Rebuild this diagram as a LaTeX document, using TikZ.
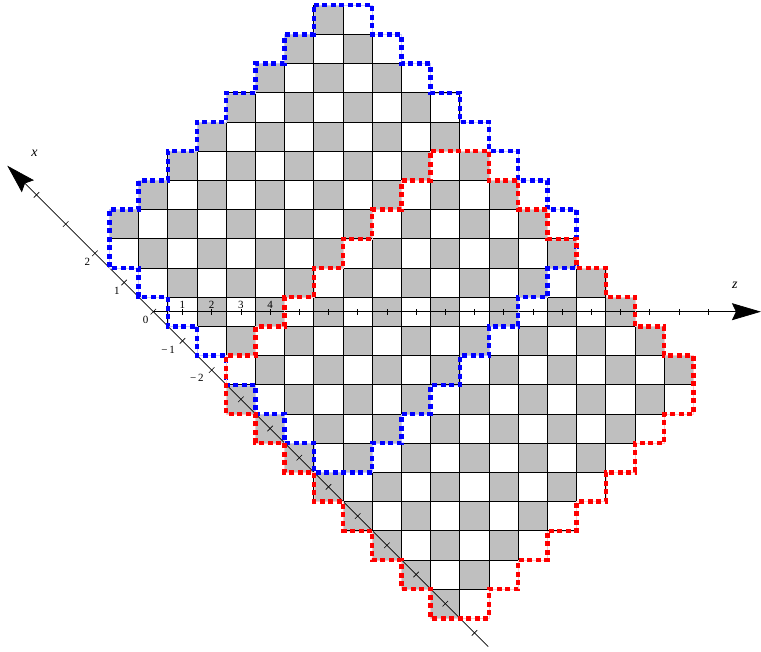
\documentclass[tikz,border=0pt]{standalone}
\usepackage{fontspec}
\setmainfont{Liberation Serif}
\usetikzlibrary{arrows.meta}
\tikzset{
  cell/.style={draw=black, line width=0.8pt},
  graycell/.style={cell, fill=lightgray},
  whitecell/.style={cell, fill=white},
  axisline/.style={line width=0.7pt, -{Stealth[length=29pt,width=17pt,inset=4pt]}},
  tickmark/.style={line width=0.6pt},
  ticklabel/.style={font=\fontsize{11}{13}\selectfont, inner sep=0pt},
  axislabel/.style={ticklabel, font=\fontsize{14}{16}\selectfont\itshape},
  outline/.style={line width=4.4pt, dash pattern=on 5pt off 3.5pt,
    preaction={draw=#1!22, solid}, draw=#1},
}
% staircase outline of an order 8 diamond: colour, centre x, centre y
\newcommand\drawaztec[3]{%
  \path[outline=#1] (#2-1,#3+8) -- ++(2,0)
    \foreach \k in {1,...,7}{ -- ++(0,-1) -- ++(1,0)} -- ++(0,-2)
    \foreach \k in {1,...,7}{ -- ++(-1,0) -- ++(0,-1)} -- ++(-2,0)
    \foreach \k in {1,...,7}{ -- ++(0,1) -- ++(-1,0)} -- ++(0,2)
    \foreach \k in {1,...,6}{ -- ++(1,0) -- ++(0,1)} -- ++(1,0) -- cycle;}

\begin{document}
\begin{tikzpicture}[x=29.2pt, y=29.2pt]
  \useasboundingbox (-5.25,-11.654) rectangle (20.812,10.675);
  % board
  \foreach \r/\a/\b in {10/6/7, 9/5/8, 8/4/9, 7/3/10, 6/2/11, 5/1/12, 4/0/13,
      3/-1/14, 2/-1/14, 1/0/15, 0/1/16, -1/2/17, -2/3/18, -3/3/18, -4/4/17,
      -5/5/16, -6/6/15, -7/7/14, -8/8/13, -9/9/12, -10/10/11}{
    \foreach \c in {\a,...,\b}{
      \ifodd\numexpr\c+\r\relax
        \path[whitecell] (\c-0.5,\r-0.5) rectangle ++(1,1);
      \else
        \path[graycell] (\c-0.5,\r-0.5) rectangle ++(1,1);
      \fi
    }
  }
  % axes
  \coordinate (o) at (0,0);
  \coordinate (xlow) at (11.47,-11.47);
  \coordinate (xtip) at (-5,5);
  \coordinate (ztip) at (20.81,0);
  \draw[axisline] (xlow) -- (xtip);
  \draw[axisline] (o) -- (ztip);
  \foreach \k in {-11,...,4}
    \draw[tickmark] ({\k*(-1)-0.095},{\k-0.095}) -- ++(0.19,0.19);
  \foreach \k in {1,...,19}
    \draw[tickmark] (\k,-0.1) -- (\k,0.1);
  % labels
  \node[ticklabel] (xl2) at (-2.26,1.71) {2};
  \node[ticklabel] (xl1) at (-1.25,0.71) {1};
  \node[ticklabel] (xl0) at (-0.26,-0.28) {0};
  \node[ticklabel] (xlm1) at (0.51,-1.31) {−\,1};
  \node[ticklabel] (xlm2) at (1.49,-2.28) {−\,2};
  \foreach \k in {1,...,4}
    \node[ticklabel] (zl\k) at (\k,0.23) {\k};
  \node[axislabel] (xname) at (-4.07,5.42) {x};
  \node[axislabel] (zname) at (19.92,0.91) {z};
  % outlines
  \drawaztec{blue}{6.5}{2.5}
  \drawaztec{red}{10.5}{-2.5}
\end{tikzpicture}
\end{document}
